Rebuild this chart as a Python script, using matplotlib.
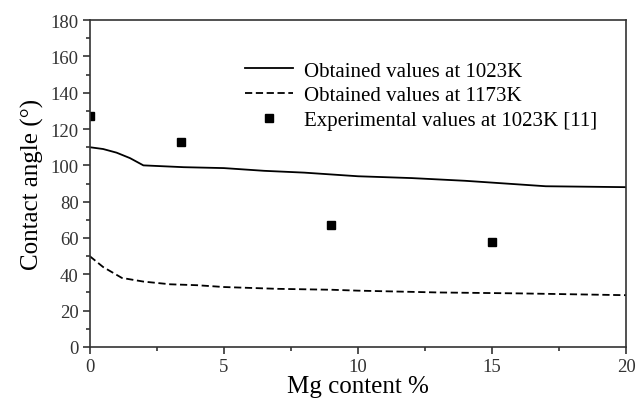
import numpy as np
import matplotlib.pyplot as plt
from matplotlib.ticker import MultipleLocator

# Contact angle vs Mg content
mg_1023 = [0, 0.5, 1.0, 1.5, 2.0, 3.5, 5.0, 6.5, 8.0, 10.0, 12.0, 14.0, 15.5, 17.0, 20.0]
angle_1023 = [110, 109, 107, 104, 100, 99, 98.5, 97, 96, 94, 93, 91.5, 90, 88.5, 88]

mg_1173 = [0, 0.5, 1.2, 2.0, 3.0, 4.0, 5.0, 7.0, 9.0, 10.0, 13.0, 16.0, 18.0, 20.0]
angle_1173 = [50, 44, 38, 36, 34.5, 34, 33, 32, 31.5, 31, 30, 29.5, 29, 28.5]

mg_exp = [0, 3.4, 9.0, 15.0]
angle_exp = [127, 113, 67, 58]

plt.rcParams["font.family"] = ["Liberation Serif", "DejaVu Serif"]

fig = plt.figure(figsize=(6.41, 4.06), dpi=100)
ax = fig.add_axes([0.140, 0.143, 0.837, 0.805])

ax.plot(mg_1023, angle_1023, color="black", linewidth=1.3,
        label="Obtained values at 1023K")
ax.plot(mg_1173, angle_1173, color="black", linewidth=1.3, linestyle=(0, (4, 2)),
        label="Obtained values at 1173K")
ax.plot(mg_exp, angle_exp, linestyle="none", marker="s", markersize=6,
        color="black", label="Experimental values at 1023K [11]")

ax.set_xlim(0, 20)
ax.set_ylim(0, 180)
ax.xaxis.set_major_locator(MultipleLocator(5))
ax.xaxis.set_minor_locator(MultipleLocator(2.5))
ax.yaxis.set_major_locator(MultipleLocator(20))
ax.yaxis.set_minor_locator(MultipleLocator(10))
ax.tick_params(which="both", direction="out", top=False, right=False,
               labelsize=13.5, colors="#333333", labelcolor="#333333")
ax.tick_params(which="major", length=5, width=1.2, pad=3)
ax.tick_params(which="minor", length=3, width=1.2)
for s in ax.spines.values():
    s.set_linewidth(1.2)
    s.set_color("#333333")

ax.set_xlabel("Mg content %", fontsize=18, labelpad=0)
ax.set_ylabel("Contact angle (°)", fontsize=18, labelpad=5)

ax.legend(loc="upper left", bbox_to_anchor=(0.29, 0.875), frameon=False,
          fontsize=15, handlelength=2.3, handletextpad=0.5,
          labelspacing=0.25, borderaxespad=0, borderpad=0)

fig.savefig("out.png", dpi=100)
